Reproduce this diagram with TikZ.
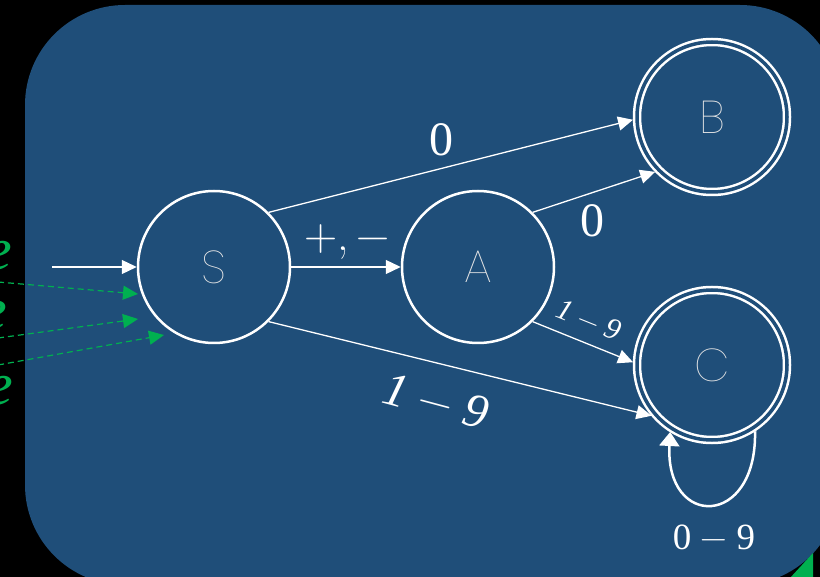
\documentclass[tikz,border=0pt]{standalone}
\usepackage{fontspec}
\usetikzlibrary{arrows.meta}
\IfFontExistsTF{Poppins Thin}{\newfontfamily\statefont{Poppins Thin}}{%
 \IfFontExistsTF{Poppins ExtraLight}{\newfontfamily\statefont{Poppins ExtraLight}}{%
  \IfFontExistsTF{Poppins Light}{\newfontfamily\statefont{Poppins Light}}{\newfontfamily\statefont{Poppins}}}}
\newfontfamily\lblfont{Liberation Serif}
\newcommand{\lmminus}{{\rmfamily −}}
\definecolor{bgblue}{HTML}{1F4E79}
\definecolor{grn}{HTML}{00B050}
\definecolor{lbl}{HTML}{E6E6E6}
\tikzset{
  state/.style={circle,draw=white,line width=2.5pt,minimum size=152pt,inner sep=0pt,
    text=lbl,font=\statefont\fontsize{46}{46}\selectfont},
  accept/.style={circle,draw=white,line width=2.5pt,double=bgblue,double distance=3.5pt,
    minimum size=150pt,inner sep=0pt,outer sep=4pt,
    text=lbl,font=\statefont\fontsize{46}{46}\selectfont},
  edge/.style={draw=white,line width=1.3pt,-{Triangle[length=15pt,width=14pt]}},
  loopedge/.style={draw=white,line width=2.5pt,-{Triangle[length=14pt,width=20pt]}},
  gedge/.style={draw=grn,line width=1.2pt,dash pattern=on 6pt off 4pt,-{Triangle[length=15pt,width=14pt]}},
  elabel/.style={text=white,inner sep=0pt},
  glabel/.style={text=grn,inner sep=0pt,font=\lblfont\itshape\fontsize{60}{60}\selectfont}
}
\begin{document}
\begin{tikzpicture}[x=1pt,y=-1pt]
\useasboundingbox (0,0) rectangle (820,577);
\fill[black] (0,0) rectangle (820,577);
\fill[bgblue,rounded corners=100pt] (25,5) rectangle (840,585);

% states
\node[state] (S) at (214,267) {S};
\node[state] (A) at (478,267) {A};
\node[accept] (B) at (712,117) {B};
\node[accept] (C) at (712,365) {C};

% initial arrow
\coordinate (init) at (52,267);
\draw[edge] (init) -- (S.west);

% transitions
\draw[edge] (S.east) -- (A.west);
\draw[edge] (S.45) -- (B.182);
\draw[edge] (A.45) -- (B.224);
\draw[edge] (A.-45) -- (C.178);
\draw[edge] (S.-45) -- (C.220);
\draw[loopedge] (C.303) .. controls +(2,97) and +(-5,97) .. (C.238);

% edge labels
\node[elabel,font=\lblfont\fontsize{48}{48}\selectfont] (l0a) at (441,140) {0};
\node[elabel,font=\lblfont\fontsize{48}{48}\selectfont] (l0b) at (592,221) {0};
\node[elabel,font=\fontsize{46}{46}\selectfont] (lpm) at (347,242) {+,\,−};
\node[elabel,font=\lblfont\fontsize{48}{48}\selectfont,rotate=-15] (l19a) at (436,401) {\textit{1} \lmminus{} \textit{9}};
\node[elabel,font=\lblfont\fontsize{30}{30}\selectfont,rotate=-22] (l19b) at (589,320) {\textit{1} \lmminus{} \textit{9}};
\node[elabel,font=\lblfont\fontsize{37}{37}\selectfont] (l09) at (714,537) {0 \lmminus{} 9};

% green dashed arrows from the left
\coordinate (g1s) at (-2,282);
\coordinate (g1e) at (138,294);
\coordinate (g2s) at (-2,338);
\coordinate (g2e) at (138,319);
\coordinate (g3s) at (-2,365);
\coordinate (g3e) at (164,335);
\draw[gedge] (g1s) -- (g1e);
\draw[gedge] (g2s) -- (g2e);
\draw[gedge] (g3s) -- (g3e);
\node[glabel,anchor=east] (ge1) at (12,256) {e};
\node[glabel,anchor=east] (ge2) at (7,316) {e};
\node[glabel,anchor=east] (ge3) at (13,391) {e};

% green corner mark
\fill[grn] (790,578) -- (813,553) -- (813,578) -- cycle;
\end{tikzpicture}
\end{document}
